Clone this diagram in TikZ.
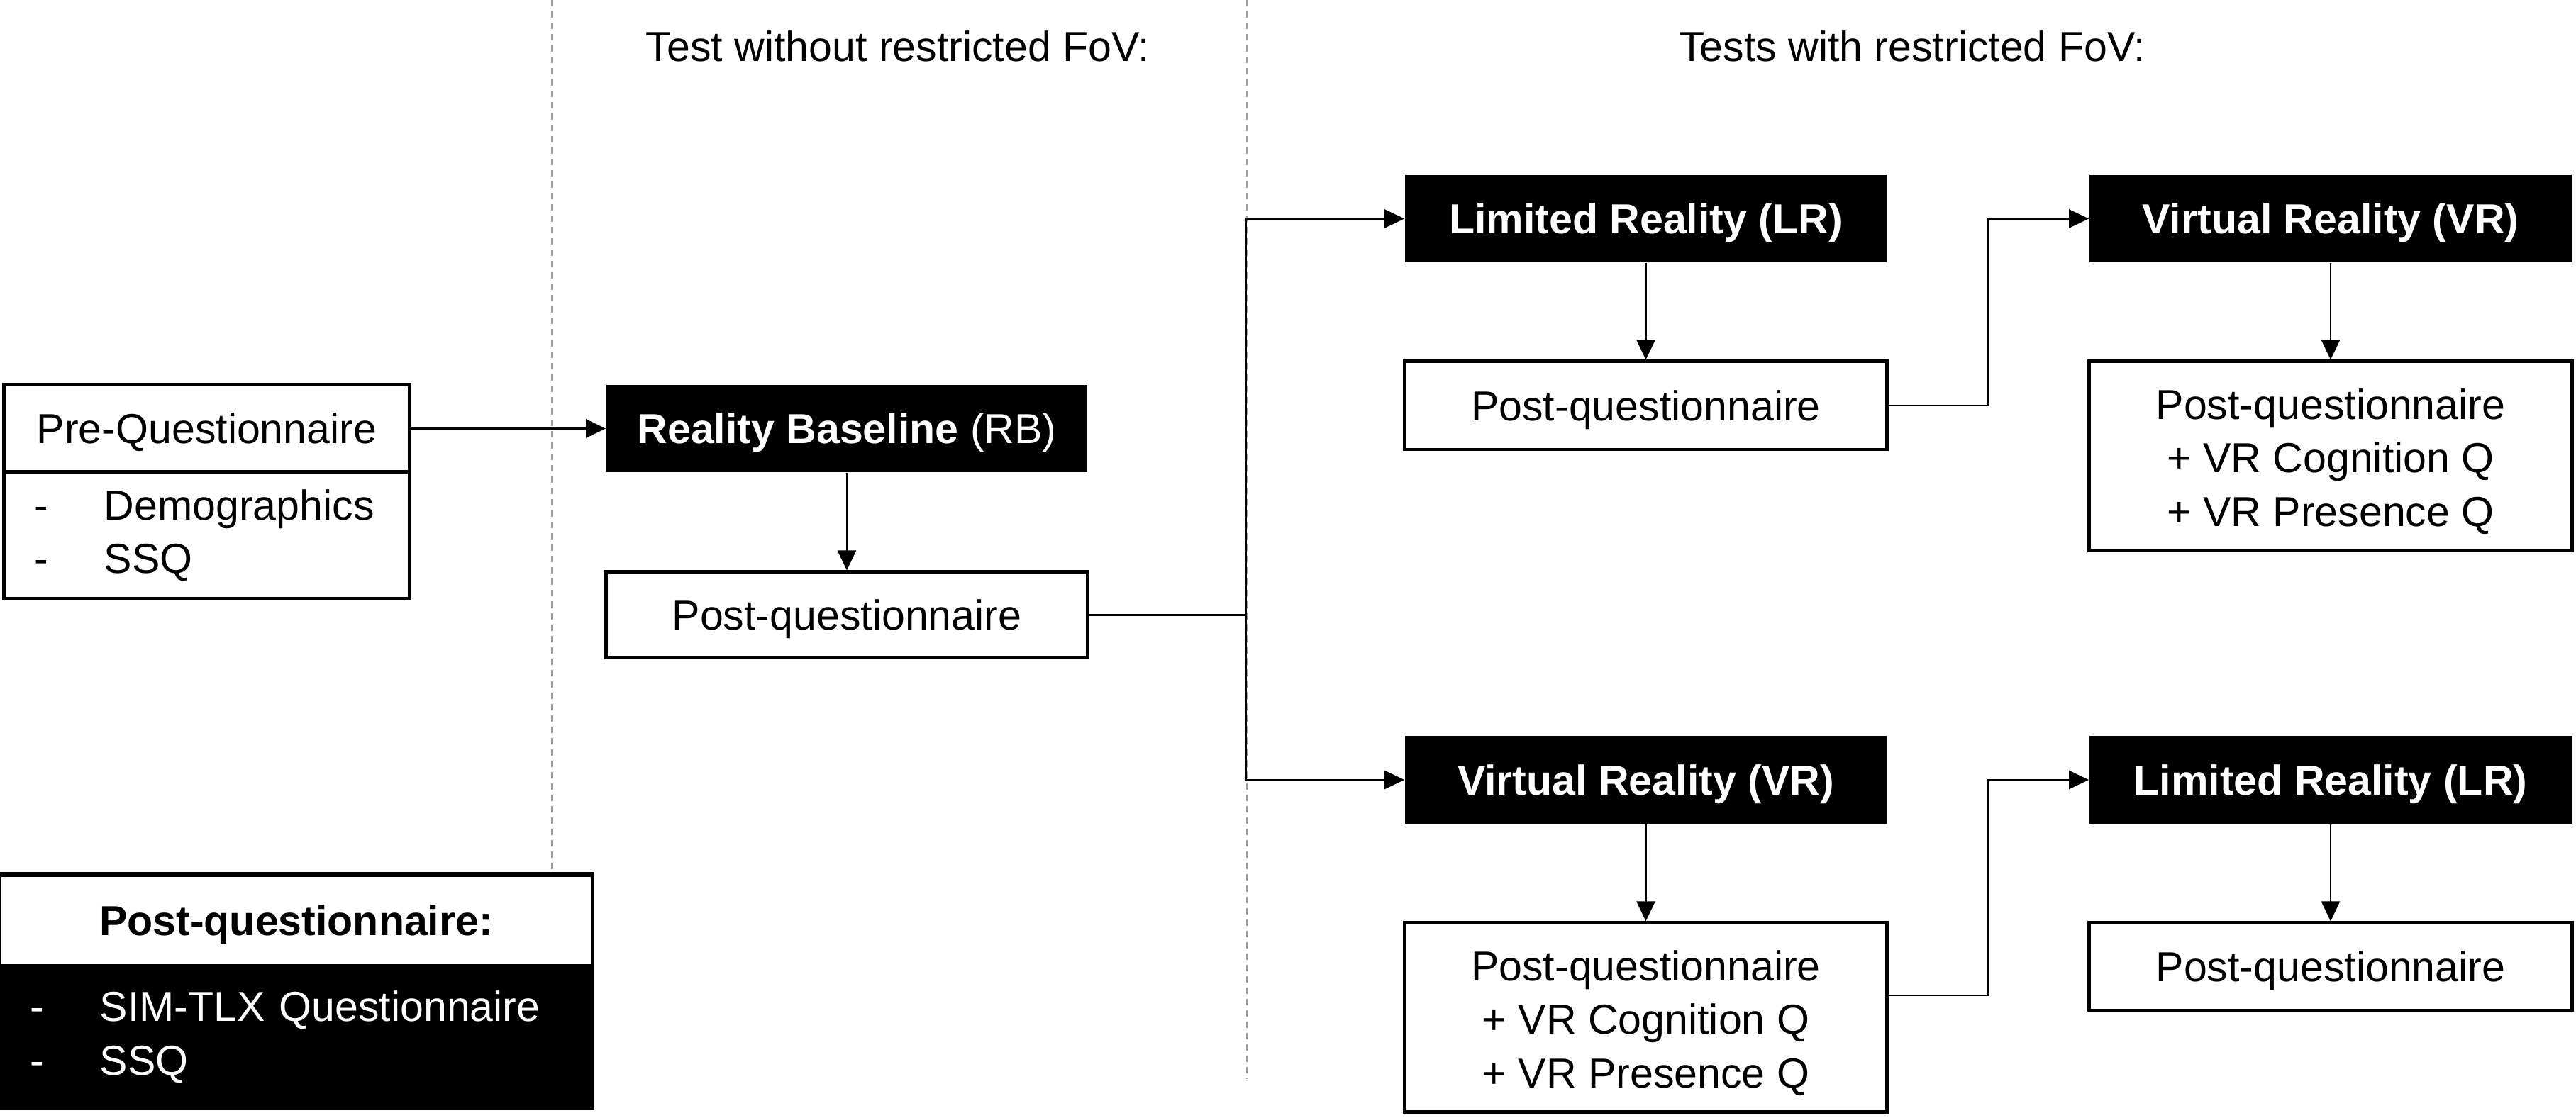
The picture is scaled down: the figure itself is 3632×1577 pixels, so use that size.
\documentclass[tikz,border=0pt]{standalone}
\usepackage{fontspec}
\setmainfont{Liberation Sans}
\usetikzlibrary{arrows.meta}
\newcommand{\diafont}{\fontsize{16.8}{21.5}\selectfont}
\newcommand{\listdash}{\makebox[0.98cm][l]{-}}
\begin{document}
\begin{tikzpicture}[x=0.01cm,y=-0.01cm,
  every node/.style={font=\diafont, inner sep=0pt},
  oneline/.style={text height=12pt, text depth=0pt},
  wbox/.style={draw, line width=1.4pt, fill=white, align=center},
  bbox/.style={fill=black, text=white, align=center, font=\diafont\bfseries, oneline},
  boxtext/.style={align=center},
  listbox/.style={inner xsep=0.43cm, align=left},
  wire/.style={line width=0.7pt},
  link/.style={line width=0.7pt, -{Triangle[length=0.28cm,width=0.26cm]}},
  sep/.style={draw=black!38, line width=0.6pt, dash pattern=on 0.09cm off 0.07cm},
  header/.style={anchor=base}
]
\useasboundingbox (0,0) rectangle (3632,1577);

% phase separators
\coordinate (s1a) at (778,0);   \coordinate (s1b) at (778,1228);
\coordinate (s2a) at (1758,0);  \coordinate (s2b) at (1758,1522);
\draw[sep] (s1a) -- (s1b);
\draw[sep] (s2a) -- (s2b);

% headers
\node[header] (h1) at (1266,87) {Test without restricted FoV:};
\node[header] (h2) at (2696,87) {Tests with restricted FoV:};

% pre-questionnaire
\node[wbox, oneline, minimum width=5.71cm, minimum height=1.23cm] (preq) at (291.5,604.5) {Pre-Questionnaire};
\node[wbox, listbox, minimum width=5.71cm, minimum height=1.78cm, text width=4.85cm] (preqlist) at (291.5,755)
  {\listdash Demographics\\\listdash SSQ};

% baseline phase
\node[bbox, minimum width=6.78cm, minimum height=1.23cm] (rb) at (1194,604.5)
  {Reality Baseline \mdseries(RB)};
\node[wbox, oneline, minimum width=6.78cm, minimum height=1.21cm] (rbpost) at (1194,867.5) {Post-questionnaire};

% upper branch: LR then VR
\node[bbox, minimum width=6.79cm, minimum height=1.23cm] (lr1) at (2320.5,308.5) {Limited Reality (LR)};
\node[wbox, oneline, minimum width=6.79cm, minimum height=1.24cm] (p1) at (2320.5,572) {Post-questionnaire};
\node[bbox, minimum width=6.80cm, minimum height=1.23cm] (vr1) at (3286,308.5) {Virtual Reality (VR)};
\node[wbox, minimum width=6.80cm, minimum height=2.66cm] (p2) at (3286,643) {};
\node[boxtext] (p2txt) at (3286,651) {Post-questionnaire\\+ VR Cognition Q\\+ VR Presence Q};

% lower branch: VR then LR
\node[bbox, minimum width=6.79cm, minimum height=1.24cm] (vr2) at (2320.5,1100) {Virtual Reality (VR)};
\node[wbox, minimum width=6.79cm, minimum height=2.66cm] (p3) at (2320.5,1435) {};
\node[boxtext] (p3txt) at (2320.5,1443) {Post-questionnaire\\+ VR Cognition Q\\+ VR Presence Q};
\node[bbox, minimum width=6.80cm, minimum height=1.24cm] (lr2) at (3286,1100) {Limited Reality (LR)};
\node[wbox, oneline, minimum width=6.80cm, minimum height=1.23cm] (p4) at (3286,1363.5) {Post-questionnaire};

% legend
\node[wbox, oneline, minimum width=8.35cm, minimum height=1.27cm, font=\diafont\bfseries] (legtop) at (417.5,1298.5) {Post-questionnaire:};
\node[fill=black, text=white, listbox, minimum width=8.35cm, minimum height=2.01cm, text width=7.49cm] (legbot) at (417.5,1462.5)
  {\listdash SIM-TLX Questionnaire\\\listdash SSQ};
\draw[line width=1.4pt] (legtop.north west) rectangle (legbot.south east);

% connectors
\coordinate (split) at (1757,867.5);
\coordinate (k1) at (2803,572);
\coordinate (k2) at (2803,1404);

\draw[link] (preq.east) -- (rb.west);
\draw[link] (rb.south) -- (rbpost.north);
\draw[wire] (rbpost.east) -- (split);
\draw[link] (split) |- (lr1.west);
\draw[link] (split) |- (vr2.west);

\draw[link] (lr1.south) -- (p1.north);
\draw[link] (p1.east) -- (k1) |- (vr1.west);
\draw[link] (vr1.south) -- (p2.north);

\draw[link] (vr2.south) -- (p3.north);
\draw[link] (p3.east |- k2) -- (k2) |- (lr2.west);
\draw[link] (lr2.south) -- (p4.north);
\end{tikzpicture}
\end{document}
